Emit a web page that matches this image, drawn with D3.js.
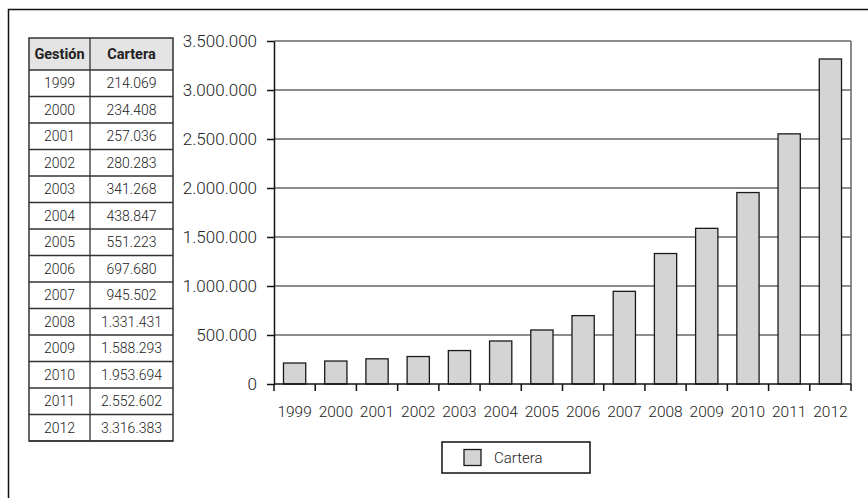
<!DOCTYPE html>
<html>
<head>
<meta charset="utf-8">
<script src="https://cdn.jsdelivr.net/npm/d3@7"></script>
<style>
  body { margin: 0; background: #fff; }
  svg text { font-family: Roboto, "Liberation Sans", sans-serif; fill: #222; }
</style>
</head>
<body>
<div id="chart"></div>
<script>
// data
const years = ["1999", "2000", "2001", "2002", "2003", "2004", "2005", "2006",
               "2007", "2008", "2009", "2010", "2011", "2012"];
const cartera = [214069, 234408, 257036, 280283, 341268, 438847, 551223, 697680,
                 945502, 1331431, 1588293, 1953694, 2552602, 3316383];
const yTicks = [0, 500000, 1000000, 1500000, 2000000, 2500000, 3000000, 3500000];
const tableHeader = ["Gestión", "Cartera"];
const legendLabel = "Cartera";

// spanish style thousands separator
const fmt = d3.formatLocale({decimal: ",", thousands: ".", grouping: [3], currency: ["", ""]}).format(",d");

const width = 868, height = 498;
const svg = d3.select("#chart").append("svg")
    .attr("width", width)
    .attr("height", height);

// outer frame
svg.append("rect")
    .attr("x", 8.5).attr("y", 9.5)
    .attr("width", 900).attr("height", 600)
    .attr("fill", "none")
    .attr("stroke", "#111")
    .attr("stroke-width", 1.5);

/* * * * table * * * */
const table = {left: 29, top: 38, col: [61, 83], headH: 32, rowH: 26.5};
const tg = svg.append("g");

tg.append("rect")
    .attr("x", table.left).attr("y", table.top)
    .attr("width", table.col[0] + table.col[1]).attr("height", table.headH)
    .attr("fill", "#e4e4e4");

tableHeader.forEach((h, i) => {
    tg.append("text")
        .attr("x", table.left + (i === 0 ? table.col[0] / 2 : table.col[0] + table.col[1] / 2))
        .attr("y", table.top + table.headH / 2 + 5)
        .attr("text-anchor", "middle")
        .style("font-size", "14.5px")
        .style("font-weight", "bold")
        .text(h);
});

years.forEach((y, i) => {
    let ty = table.top + table.headH + i * table.rowH;
    tg.append("text")
        .attr("x", table.left + table.col[0] / 2)
        .attr("y", ty + table.rowH / 2 + 5)
        .attr("text-anchor", "middle")
        .style("font-size", "14px")
        .style("font-weight", 300)
        .text(y);
    tg.append("text")
        .attr("x", table.left + table.col[0] + table.col[1] / 2)
        .attr("y", ty + table.rowH / 2 + 5)
        .attr("text-anchor", "middle")
        .style("font-size", "14px")
        .style("font-weight", 300)
        .text(fmt(cartera[i]));
});

// table grid lines
const tableBottom = table.top + table.headH + years.length * table.rowH;
const tableRight = table.left + table.col[0] + table.col[1];
for (let i = 0; i <= years.length; i++) {
    let ly = table.top + table.headH + i * table.rowH;
    tg.append("line")
        .attr("x1", table.left).attr("x2", tableRight)
        .attr("y1", ly).attr("y2", ly)
        .attr("stroke", "#333").attr("stroke-width", 1.3);
}
tg.append("rect")
    .attr("x", table.left).attr("y", table.top)
    .attr("width", tableRight - table.left).attr("height", tableBottom - table.top)
    .attr("fill", "none").attr("stroke", "#333").attr("stroke-width", 1.5);
tg.append("line")
    .attr("x1", table.left + table.col[0]).attr("x2", table.left + table.col[0])
    .attr("y1", table.top).attr("y2", tableBottom)
    .attr("stroke", "#333").attr("stroke-width", 1.3);

/* * * * bar chart * * * */
const plot = {left: 274, right: 851, top: 41, bottom: 384};

const x = d3.scaleBand()
    .domain(years)
    .range([plot.left, plot.right])
    .paddingInner(0.46)
    .paddingOuter(0.23);

const y = d3.scaleLinear()
    .domain([0, 3500000])
    .range([plot.bottom, plot.top]);

// gridlines
svg.append("g")
    .selectAll("line")
    .data(yTicks.slice(1))
    .enter().append("line")
    .attr("x1", plot.left).attr("x2", plot.right)
    .attr("y1", d => y(d)).attr("y2", d => y(d))
    .attr("stroke", "#666")
    .attr("stroke-width", 1.5);

// right border of plot
svg.append("line")
    .attr("x1", plot.right).attr("x2", plot.right)
    .attr("y1", plot.top).attr("y2", plot.bottom)
    .attr("stroke", "#666")
    .attr("stroke-width", 1.5);

// bars
svg.append("g")
    .selectAll("rect")
    .data(cartera)
    .enter().append("rect")
    .attr("x", (d, i) => x(years[i]))
    .attr("y", d => y(d))
    .attr("width", x.bandwidth())
    .attr("height", d => plot.bottom - y(d))
    .attr("fill", "#d4d4d4")
    .attr("stroke", "#1a1a1a")
    .attr("stroke-width", 1.3);

// y axis
const yAxis = svg.append("g")
    .attr("transform", `translate(${plot.left},0)`)
    .call(d3.axisLeft(y).tickValues(yTicks).tickFormat(fmt).tickSize(7).tickSizeOuter(0).tickPadding(10));

// x axis, ticks at band edges
const edges = years.map(d => x(d) - x.step() * x.paddingInner() / 2).concat([plot.right]);
const xAxis = svg.append("g")
    .attr("transform", `translate(0,${plot.bottom})`);
xAxis.append("line")
    .attr("x1", plot.left).attr("x2", plot.right)
    .attr("stroke", "#111").attr("stroke-width", 1.5);
xAxis.selectAll(".edge")
    .data(edges)
    .enter().append("line")
    .attr("x1", d => d).attr("x2", d => d)
    .attr("y1", 0).attr("y2", 7)
    .attr("stroke", "#111").attr("stroke-width", 1.5);
xAxis.selectAll(".lbl")
    .data(years)
    .enter().append("text")
    .attr("x", d => x(d) + x.bandwidth() / 2)
    .attr("y", 33)
    .attr("text-anchor", "middle")
    .style("font-size", "15.5px")
    .style("font-weight", 300)
    .text(d => d);

yAxis.select(".domain").attr("stroke", "#111").attr("stroke-width", 1.5);
yAxis.selectAll(".tick line").attr("stroke", "#111").attr("stroke-width", 1.5);
yAxis.selectAll(".tick text")
    .style("font-size", "17px")
    .style("font-weight", 300)
    .attr("fill", "#222");

// legend
const lg = svg.append("g").attr("transform", "translate(442,442)");
lg.append("rect")
    .attr("width", 148).attr("height", 31)
    .attr("fill", "#fff")
    .attr("stroke", "#111").attr("stroke-width", 1.5);
lg.append("rect")
    .attr("x", 22).attr("y", 7.5)
    .attr("width", 17).attr("height", 16)
    .attr("fill", "#d4d4d4")
    .attr("stroke", "#1a1a1a").attr("stroke-width", 1.3);
lg.append("text")
    .attr("x", 52).attr("y", 21)
    .style("font-size", "15px")
    .style("font-weight", 300)
    .text(legendLabel);
</script>
</body>
</html>
